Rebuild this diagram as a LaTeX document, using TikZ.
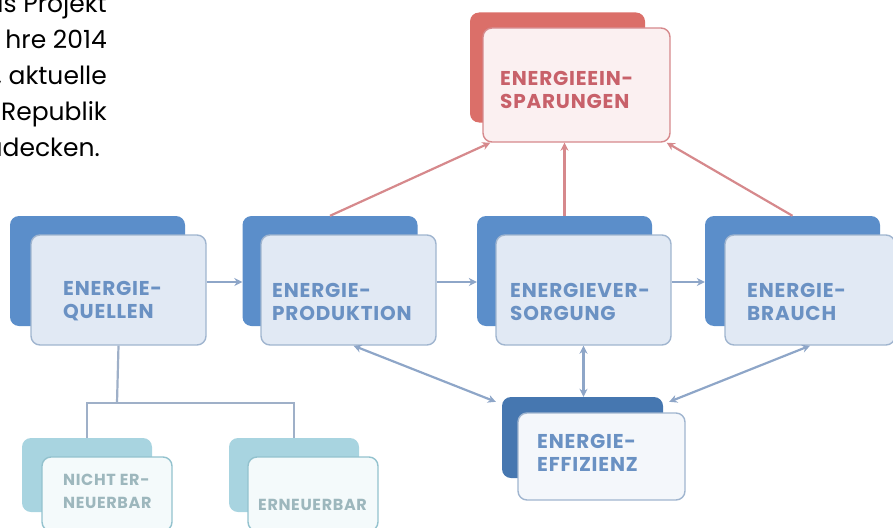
\documentclass[tikz,border=0pt]{standalone}
\usepackage{fontspec}
\setmainfont{Poppins}
\newfontfamily\boxfont{Poppins}[LetterSpace=4.0]
\usetikzlibrary{arrows.meta}
\definecolor{blueback}{HTML}{5B8ECA}
\definecolor{bluefront}{HTML}{E1E9F4}
\definecolor{blueline}{HTML}{A0B5CF}
\definecolor{bluetext}{HTML}{6A91C3}
\definecolor{effback}{HTML}{4677B0}
\definecolor{efffront}{HTML}{F4F7FB}
\definecolor{redback}{HTML}{DB6F69}
\definecolor{redfront}{HTML}{FBF0F1}
\definecolor{redline}{HTML}{D6898C}
\definecolor{redtext}{HTML}{C8616A}
\definecolor{tealback}{HTML}{A8D4E0}
\definecolor{tealfront}{HTML}{F4FAFB}
\definecolor{tealline}{HTML}{93C2CE}
\definecolor{tealtext}{HTML}{9DB7BD}
\definecolor{arrowblue}{HTML}{8EA6C8}
\definecolor{treeline}{HTML}{9FB0C8}

\begin{document}
\begin{tikzpicture}[x=1pt,y=-1pt,
    back/.style={rectangle,rounded corners=9pt,inner sep=0pt,fill=blueback},
    front/.style={rectangle,rounded corners=9pt,inner sep=0pt,line width=1.4pt,draw=blueline,fill=bluefront},
    bigbox/.style={minimum width=175pt,minimum height=110pt},
    smallbox/.style={minimum width=130pt,minimum height=74pt},
    lbl/.style={anchor=west,inner sep=0pt,align=left,text=bluetext,font=\fontsize{20pt}{23pt}\selectfont\boxfont\bfseries},
    smalllbl/.style={lbl,text=tealtext,font=\fontsize{16pt}{23pt}\selectfont\boxfont\bfseries},
    para/.style={inner sep=0pt,align=right,font=\fontsize{25pt}{36pt}\selectfont},
    arr/.style={line width=2.2pt,draw=arrowblue,-{Stealth[length=8pt,width=8pt]}},
    dblarr/.style={arr,{Stealth[length=8pt,width=8pt]}-{Stealth[length=8pt,width=8pt]}},
    redarr/.style={arr,draw=redline},
    tree/.style={line width=2.2pt,draw=treeline}]
      \useasboundingbox (0,0) rectangle (893,527);

      \node[para,anchor=north east] (txt) at (107,-7) {as Projekt\\hre 2014\\, aktuelle\\Republik\\udecken.\hspace*{7pt}};

      \node[back,bigbox,fill=redback] (Eb) at (557.5,67.5) {};
      \node[front,bigbox,minimum width=187pt,minimum height=114pt,fill=redfront,draw=redline] (E) at (576.5,85) {};
      \node[lbl,text=redtext] (Et) at (500,89.5) {ENERGIEEIN-\\SPARUNGEN};

      \node[back,bigbox] (Qb) at (97.5,271) {};
      \node[front,bigbox] (Q) at (118.5,290) {};
      \node[lbl] (Qt) at (63,301.5) {ENERGIE-\\QUELLEN};

      \node[back,bigbox] (Pb) at (330,271) {};
      \node[front,bigbox] (P) at (348.5,290) {};
      \node[lbl] (Pt) at (272,301.5) {ENERGIE-\\PRODUKTION};

      \node[back,bigbox] (Vb) at (564.5,271) {};
      \node[front,bigbox] (V) at (583.5,290) {};
      \node[lbl] (Vt) at (510,301.5) {ENERGIEVER-\\SORGUNG};

      \node[back,bigbox] (Bb) at (792.5,271) {};
      \node[front,bigbox,minimum width=170pt] (B) at (810,290) {};
      \node[lbl] (Bt) at (747,301.5) {ENERGIE-\\BRAUCH};

      \node[back,minimum width=161pt,minimum height=81pt,fill=effback] (Fb) at (582.5,437.5) {};
      \node[front,minimum width=167pt,minimum height=87pt,fill=efffront] (F) at (601.5,456.5) {};
      \node[lbl] (Ft) at (537,452.5) {ENERGIE-\\EFFIZIENZ};

      \node[back,smallbox,fill=tealback] (Nb) at (87,475) {};
      \node[front,smallbox,fill=tealfront,draw=tealline] (N) at (107,494) {};
      \node[smalllbl] (Nt) at (63,491.5) {NICHT ER-\\NEUERBAR};

      \node[back,smallbox,fill=tealback] (Rb) at (294,475) {};
      \node[front,smallbox,fill=tealfront,draw=tealline] (R) at (313,494) {};
      \node[smalllbl] (Rt) at (258,505) {ERNEUERBAR};

      \draw [arr] ([yshift=8pt]Q.east) -- ([yshift=8pt]Q.east -| Pb.west);
      \draw [arr] ([yshift=8pt]P.east) -- ([yshift=8pt]P.east -| Vb.west);
      \draw [arr] ([yshift=8pt]V.east) -- ([yshift=8pt]V.east -| Bb.west);

      \draw [redarr] (Pb.north) -- ([xshift=8pt]E.south west);
      \draw [redarr] (Vb.north) -- (Vb.north |- E.south);
      \draw [redarr] (Bb.north) -- ([xshift=-4pt]E.south east);

      \draw [dblarr] ([xshift=5pt]P.south) -- ([xshift=-6pt,yshift=-5pt]Fb.north west);
      \draw [dblarr] (V.south) -- (V.south |- Fb.north);
      \draw [dblarr] (B.south) -- ([xshift=6pt,yshift=-5pt]Fb.north east);

      \coordinate (fork) at (117,403);
      \draw [tree] (Q.south) -- (fork);
      \draw [tree] (Nb.north) |- (fork) -| (Rb.north);
  \end{tikzpicture}
\end{document}
